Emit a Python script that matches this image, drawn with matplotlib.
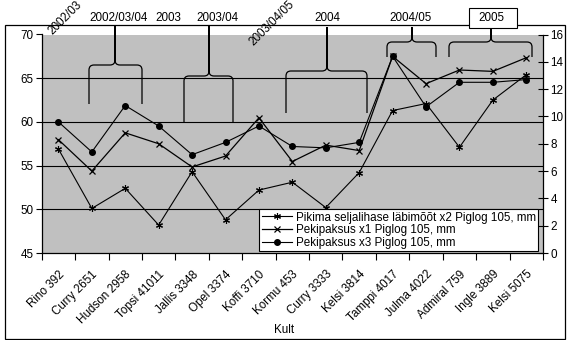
import matplotlib
matplotlib.use("Agg")
import matplotlib.pyplot as plt
import matplotlib.transforms as mtransforms
from matplotlib.path import Path
from matplotlib.patches import PathPatch, Rectangle

plt.rcParams['font.family'] = ['Liberation Sans', 'DejaVu Sans']

# cultivars on the category axis
kult = ['Rino 392', 'Curry 2651', 'Hudson 2958', 'Topsi 41011', 'Jallis 3348',
        'Opel 3374', 'Koffi 3710', 'Kormu 453', 'Curry 3333', 'Kelsi 3814',
        'Tamppi 4017', 'Julma 4022', 'Admiral 759', 'Ingle 3889', 'Kelsi 5075']

# loin muscle diameter (left axis, mm)
pikima = [56.9, 50.1, 52.4, 48.2, 54.3, 48.8, 52.2, 53.1, 50.2, 54.2,
          61.3, 62.1, 57.1, 62.5, 65.4]
# backfat thickness x1 and x3 (right axis, mm)
peki_x1 = [8.3, 6.0, 8.8, 8.0, 6.3, 7.1, 9.9, 6.7, 7.9, 7.5,
           14.4, 12.4, 13.4, 13.3, 14.3]
peki_x3 = [9.6, 7.4, 10.8, 9.3, 7.2, 8.1, 9.3, 7.8, 7.7, 8.1,
           14.4, 10.7, 12.5, 12.5, 12.7]

labels = ['Pikima seljalihase läbimõõt x2 Piglog 105, mm',
          'Pekipaksus x1 Piglog 105, mm',
          'Pekipaksus x3 Piglog 105, mm']

W, H = 567, 340
fs = 8.4

fig = plt.figure(figsize=(W / 100, H / 100), dpi=100)
ax = fig.add_axes([41.7 / W, 1 - 253 / H, (543 - 41.7) / W, (253 - 34.5) / H])
ax2 = ax.twinx()

ax.set_facecolor('#c0c0c0')
x = list(range(len(kult)))

star = (6, 2, 0)
l1, = ax.plot(x, pikima, color='black', lw=0.8, marker=star, ms=5, mew=0.8)
l2, = ax2.plot(x, peki_x1, color='black', lw=0.9, marker='x', ms=5, mew=0.9)
l3, = ax2.plot(x, peki_x3, color='black', lw=0.8, marker='o', ms=4)

ax.set_xlim(-0.5, len(kult) - 0.5)
ax.set_ylim(45, 70)
ax.set_yticks([45, 50, 55, 60, 65, 70])
ax2.set_ylim(0, 16)
ax2.set_yticks(range(0, 17, 2))

for y in [50, 55, 60, 65]:
    ax.axhline(y, color='black', lw=0.8, zorder=0.5)

# ticks between categories, labels at category centres
ax.set_xticks([i + 0.5 for i in range(-1, len(kult))])
ax.set_xticklabels([])
ax.set_xticks(x, minor=True)
ax.set_xticklabels(kult, minor=True, rotation=45, ha='right',
                   rotation_mode='anchor', fontsize=fs)
shift = mtransforms.ScaledTranslation(-8 / 100, 0, fig.dpi_scale_trans)
for lab in ax.get_xticklabels(minor=True):
    lab.set_transform(lab.get_transform() + shift)
ax.tick_params(axis='x', which='minor', length=0, pad=11)
ax.tick_params(axis='x', which='major', length=5, width=0.8, direction='out')
ax.tick_params(axis='y', length=4, width=0.8, labelsize=fs, pad=2)
ax2.tick_params(axis='y', length=7, width=0.8, direction='inout', labelsize=fs, pad=2)

for a in (ax, ax2):
    a.spines['top'].set_visible(False)
    for s in ('left', 'bottom', 'right'):
        a.spines[s].set_linewidth(0.9)
ax.spines['right'].set_visible(False)
ax2.spines['left'].set_visible(False)
ax2.spines['bottom'].set_visible(False)

leg = ax2.legend([l1, l2, l3], labels, loc='lower right', bbox_to_anchor=(0.99, 0.009),
                 borderaxespad=0, fontsize=fs, fancybox=False, framealpha=1,
                 edgecolor='black', labelspacing=0.05, borderpad=0.2,
                 handlelength=2.6, handletextpad=0.3)
leg.get_frame().set_linewidth(0.8)


def fx(px):
    return px / W


def fy(py):
    return 1 - py / H


def brace(x0, x1, xt, ytop, ymid, ybot, r=5):
    # one curly bracket, open side down, tip up to its label
    pts, codes = [], []
    for xe, sgn in ((x0, 1), (x1, -1)):
        seg = [(xe, ybot), (xe, ymid + r), (xe, ymid), (xe + sgn * r, ymid),
               (xt - sgn * r, ymid), (xt, ymid), (xt, ymid - r), (xt, ytop)]
        pts += [(fx(a), fy(b)) for a, b in seg]
        codes += [Path.MOVETO, Path.LINETO, Path.CURVE3, Path.CURVE3,
                  Path.LINETO, Path.CURVE3, Path.CURVE3, Path.LINETO]
    fig.patches.append(PathPatch(Path(pts, codes), transform=fig.transFigure,
                                 fill=False, edgecolor='black', lw=0.9))


brace(89, 142, 115, 26, 65, 104)
brace(184, 233, 209, 26, 76, 123)
brace(286, 367, 327, 27, 71, 113)
brace(387, 436, 412, 27, 42, 57)
brace(449, 532, 491, 28, 42, 57)

for txt, cx in [('2002/03/04', 119), ('2003', 168), ('2003/04', 217),
                ('2004', 327), ('2004/05', 411)]:
    fig.text(fx(cx), fy(18), txt, fontsize=fs, ha='center', va='center')

fig.text(fx(491), fy(18), '2005', fontsize=fs, ha='center', va='center', zorder=4)
fig.patches.append(Rectangle((fx(469), fy(28)), fx(517) - fx(469), fy(8) - fy(28),
                             transform=fig.transFigure, fill=True, facecolor='white',
                             edgecolor='black', lw=0.8, zorder=3))

fig.text(fx(54), fy(37), '2002/03', fontsize=fs, rotation=45,
         ha='left', va='bottom', rotation_mode='anchor')
fig.text(fx(255), fy(48), '2003/04/05', fontsize=fs, rotation=45,
         ha='left', va='bottom', rotation_mode='anchor')

fig.text(fx(284), fy(330), 'Kult', fontsize=fs, ha='center', va='center')

# chart area border
fig.patches.append(Rectangle((fx(5), fy(339)), fx(565) - fx(5), fy(25) - fy(339),
                             transform=fig.transFigure, fill=False,
                             edgecolor='black', lw=0.9, zorder=0))

fig.savefig('out.png', dpi=100)
